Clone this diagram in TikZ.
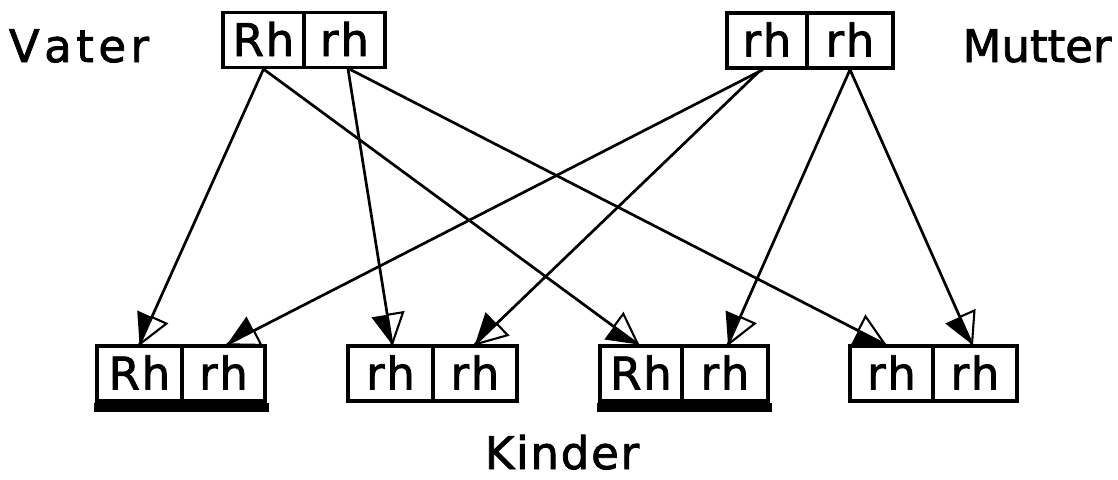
\documentclass[tikz,border=0pt]{standalone}
\usepackage{fontspec}
\setmainfont[Kerning=Off,FakeBold=1.8]{DejaVu Sans}
\newfontfamily\widefont[Kerning=Off,LetterSpace=10,FakeBold=1.8]{DejaVu Sans}
\newfontfamily\midfont[Kerning=Off,LetterSpace=4,FakeBold=1.8]{DejaVu Sans}
\usetikzlibrary{decorations.markings}
\tikzset{
  cell/.style={draw, line width=3.2pt, minimum width=#1pt, minimum height=55pt,
    inner sep=0pt, text height=32pt, text depth=0pt, font=\fontsize{45}{48}\midfont},
  lab/.style={inner sep=0pt, font=\fontsize{45}{48}\selectfont},
  harr/.style={line width=2.7pt, postaction={decorate},
    decoration={markings, mark=at position 1 with {
      \fill (0pt,0pt) -- (-30pt,-16pt) -- (-30pt,0pt) -- cycle;
      \draw[line width=2.1pt, line join=miter] (0pt,0pt) -- (-30pt,16pt) -- (-30pt,0pt);
    }}},
  bar/.style={fill=black}
}
\begin{document}
\begin{tikzpicture}[x=1pt,y=-1pt]
\useasboundingbox (0,0) rectangle (1118,479);
% parents
\node[cell=81] (vA) at (263.5,40) {Rh};
\node[cell=81] (vB) at (344.5,40) {r\kern2pt h};
\node[cell=80] (mA) at (767,40.5) {rh};
\node[cell=86] (mB) at (850,40.5) {rh};
% children
\node[cell=85] (c1a) at (139.5,373.5) {Rh};
\node[cell=83] (c1b) at (223.5,373.5) {rh};
\node[cell=85] (c2a) at (390.5,373.5) {rh};
\node[cell=84] (c2b) at (475,373.5) {rh};
\node[cell=82] (c3a) at (641,373.5) {Rh};
\node[cell=86] (c3b) at (725,373.5) {rh};
\node[cell=83] (c4a) at (891.5,373.5) {rh};
\node[cell=84] (c4b) at (975,373.5) {rh};
% bars under Rh carriers
\fill[bar] ([xshift=-1.5pt]c1a.south west) rectangle ([xshift=2pt,yshift=-9pt]c1b.south east);
\fill[bar] ([xshift=-1.5pt]c3a.south west) rectangle ([xshift=2pt,yshift=-9pt]c3b.south east);
% labels
\node[lab, anchor=base, font=\fontsize{45}{48}\widefont] (vater) at (79,62) {Vater};
\node[lab, anchor=base] (mutter) at (1037,62) {Mutter};
\node[lab, anchor=base, font=\fontsize{45}{48}\midfont] (kinder) at (562,469) {Kinder};
% connectors
\draw[harr] (vA.south) -- (c1a.north);
\draw[harr] (vA.south) -- ([xshift=-3pt]c3a.north);
\draw[harr] ([xshift=3.5pt]vB.south) -- ([xshift=1.5pt]c2a.north);
\draw[harr] ([xshift=5pt]vB.south) -- ([xshift=-6.5pt]c4a.north);
\draw[harr] ([xshift=-4pt]mA.south) -- ([xshift=3.5pt]c1b.north);
\draw[harr] ([xshift=-6pt]mA.south) -- (c2b.north);
\draw[harr] (mB.south) -- ([xshift=3pt]c3b.north);
\draw[harr] (mB.south) -- ([xshift=-3pt]c4b.north);
\end{tikzpicture}
\end{document}
